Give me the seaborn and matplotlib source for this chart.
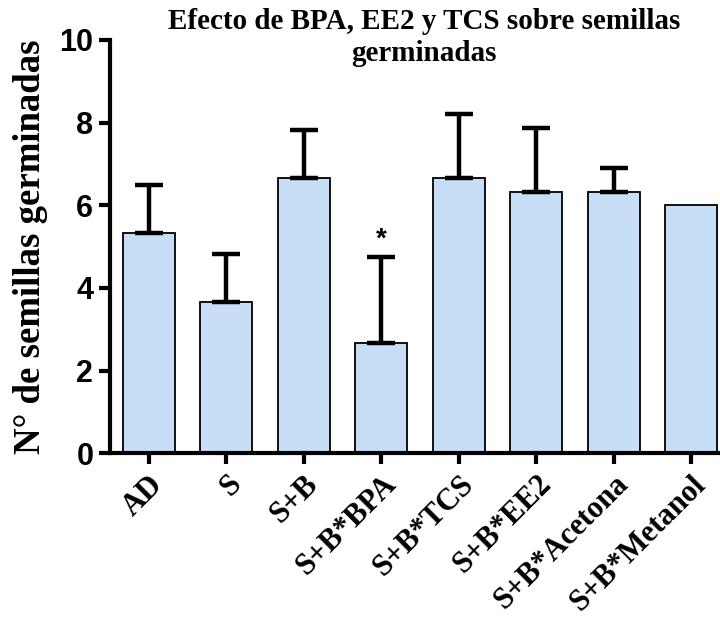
import numpy as np
import pandas as pd
import matplotlib
matplotlib.use("Agg")
import matplotlib.pyplot as plt
import seaborn as sns

# Germinated seeds per treatment (mean and upper SD)
tratamientos = ["AD", "S", "S+B", "S+B*BPA", "S+B*TCS", "S+B*EE2",
                "S+B*Acetona", "S+B*Metanol"]
medias = [5.33, 3.67, 6.67, 2.67, 6.67, 6.33, 6.33, 6.0]
desv = [1.15, 1.15, 1.15, 2.08, 1.53, 1.53, 0.58, 0.0]
y_ticks = [0, 2, 4, 6, 8, 10]

df = pd.DataFrame({"tratamiento": tratamientos, "media": medias})

sns.set_theme(style="ticks", rc={
    "text.color": "black",
    "axes.labelcolor": "black",
    "axes.edgecolor": "black",
    "xtick.color": "black",
    "ytick.color": "black",
})
serif = ["Liberation Serif", "DejaVu Serif"]
sans = ["Liberation Sans", "DejaVu Sans"]

fig = plt.figure(figsize=(7.2, 6.19), dpi=100)
ax = fig.add_axes([0.1528, 0.2677, 0.8472, 0.6677])

sns.barplot(data=df, x="tratamiento", y="media", ax=ax,
            color="#C8DDF6", saturation=1, width=0.67,
            edgecolor="black", linewidth=1.3, errorbar=None, zorder=2)

# Upper error bars only, skipping groups with no spread
x = np.arange(len(tratamientos))
m = np.array(medias)
e = np.array(desv)
keep = e > 0
ax.errorbar(x[keep], m[keep], yerr=[np.zeros(keep.sum()), e[keep]],
            fmt="none", ecolor="black", elinewidth=3.2, capsize=10,
            capthick=3.2, zorder=3)

# Significance mark over S+B*BPA
i_bpa = tratamientos.index("S+B*BPA")
ax.text(i_bpa, m[i_bpa] + e[i_bpa] + 0.1, "*", ha="center", va="bottom",
        fontsize=20, fontweight="bold", family=sans, color="black")

ax.set_ylim(0, 10)
ax.set_xlim(-0.5, 7.37)
ax.set_yticks(y_ticks)
ax.set_yticklabels([str(t) for t in y_ticks], fontsize=22, fontweight="bold",
                   family=sans, color="black")
ax.set_xticks(x)
ax.set_xticklabels(tratamientos, rotation=45, ha="right", va="top",
                   rotation_mode="anchor", fontsize=22, fontweight="bold",
                   family=serif, color="black")
ax.set_xlabel("")
ax.set_ylabel("N° de semillas germinadas", fontsize=26.5, fontweight="bold",
              family=serif, labelpad=8, color="black")

# Two-line title, placed in figure coordinates
fig.text(424 / 720, 1 - 29 / 619, "Efecto de BPA, EE2 y TCS sobre semillas",
         ha="center", va="baseline", fontsize=21, fontweight="bold",
         family=serif, color="black")
fig.text(424 / 720, 1 - 61 / 619, "germinadas",
         ha="center", va="baseline", fontsize=21, fontweight="bold",
         family=serif, color="black")

for side in ["top", "right"]:
    ax.spines[side].set_visible(False)
for side in ["left", "bottom"]:
    ax.spines[side].set_linewidth(3)
    ax.spines[side].set_color("black")
ax.tick_params(axis="both", width=3, length=8, color="black", pad=4)
ax.set_facecolor("white")

fig.savefig("out.png", dpi=100, facecolor="white")
